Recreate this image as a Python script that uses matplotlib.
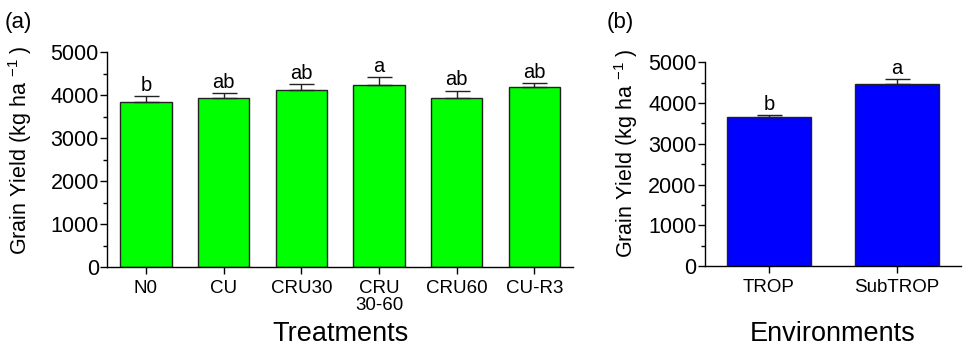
import matplotlib.pyplot as plt
import numpy as np

plt.rcParams['font.family'] = ['Liberation Sans', 'DejaVu Sans']
plt.rcParams['mathtext.fontset'] = 'custom'
plt.rcParams['mathtext.rm'] = 'Liberation Sans'
plt.rcParams['mathtext.it'] = 'Liberation Sans'

# panel (a)
treatments = ['N0', 'CU', 'CRU30', 'CRU\n30-60', 'CRU60', 'CU-R3']
yield_trt = [3830, 3930, 4130, 4240, 3945, 4190]
err_trt = [155, 125, 130, 185, 160, 95]
letters_trt = ['b', 'ab', 'ab', 'a', 'ab', 'ab']

# panel (b)
environments = ['TROP', 'SubTROP']
yield_env = [3645, 4455]
err_env = [60, 140]
letters_env = ['b', 'a']


def draw_panel(ax, cats, vals, errs, letters, color, xlabel):
    x = np.arange(len(cats))
    ax.bar(x, vals, width=0.66, color=color, edgecolor='#222222', linewidth=1.0, zorder=2)
    ax.errorbar(x, vals, yerr=[np.zeros(len(errs)), errs], fmt='none',
                ecolor='#222222', elinewidth=1.0, capsize=9, capthick=1.0, zorder=3)
    for xi, v, e, l in zip(x, vals, errs, letters):
        ax.text(xi, v + e + 30, l, ha='center', va='bottom', fontsize=14.5)
    ax.set_xlim(-0.5, len(cats) - 0.5)
    ax.set_ylim(0, 5000)
    ax.set_yticks(np.arange(0, 5001, 1000))
    ax.set_yticks(np.arange(0, 5001, 500), minor=True)
    ax.set_xticks(x)
    ax.set_xticklabels(cats, fontsize=13.5, linespacing=1.05)
    ax.tick_params(axis='y', labelsize=15.5, length=5, width=1.0, pad=1)
    ax.tick_params(axis='y', which='minor', length=3, width=1.0)
    ax.tick_params(axis='x', length=5, width=1.0, pad=4)
    for s in ['top', 'right']:
        ax.spines[s].set_visible(False)
    for s in ['left', 'bottom']:
        ax.spines[s].set_linewidth(1.0)
    ax.set_ylabel('Grain Yield (kg ha $^{-1}$ )', fontsize=15.5)
    ax.set_xlabel(xlabel, fontsize=19.5)


fig = plt.figure(figsize=(9.65, 3.47), dpi=100)
ax1 = fig.add_axes([0.111, 0.2305, 0.483, 0.619])
ax2 = fig.add_axes([0.7306, 0.2334, 0.2653, 0.5871])

draw_panel(ax1, treatments, yield_trt, err_trt, letters_trt, '#00ff00', 'Treatments')
draw_panel(ax2, environments, yield_env, err_env, letters_env, '#0000ff', 'Environments')

ax1.xaxis.set_label_coords(0.5, -0.25)
ax2.xaxis.set_label_coords(0.5, -0.27)
ax1.yaxis.set_label_coords(-0.157, 0.544)
ax2.yaxis.set_label_coords(-0.254, 0.554)

fig.text(0.005, 0.965, '(a)', fontsize=16, va='top')
fig.text(0.629, 0.965, '(b)', fontsize=16, va='top')

fig.savefig('out.png', dpi=100)
